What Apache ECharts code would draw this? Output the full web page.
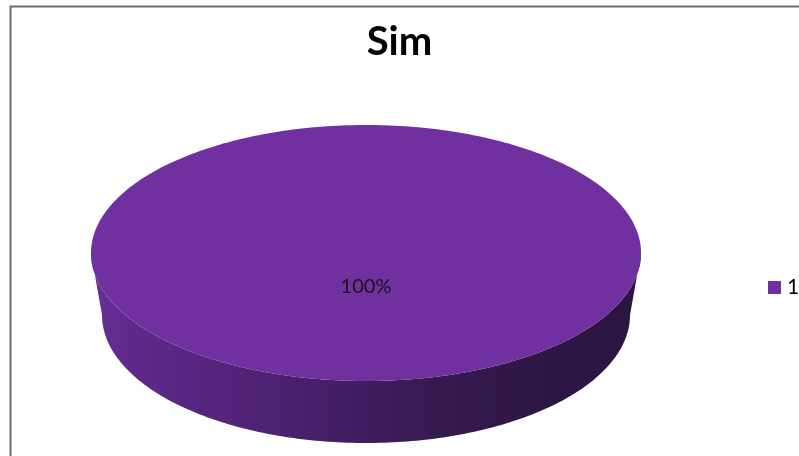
<!DOCTYPE html>
<html>
<head>
<meta charset="utf-8">
<script src="https://cdn.jsdelivr.net/npm/echarts@6/dist/echarts.min.js"></script>
<style>
  html, body { margin: 0; padding: 0; background: #fff; }
  #chart { width: 799px; height: 456px; }
</style>
</head>
<body>
<div id="chart"></div>
<script>
// Chart content
const chartTitle = 'Sim';
const categories = ['1'];
const values = [100];
const sliceColors = ['#7030A0'];

const total = values.reduce((a, b) => a + b, 0);

// Geometry of the tilted (3D-looking) pie
const geo = { cx: 366, cy: 253, rx: 275, ry: 128, depth: 62, baseScale: 0.96 };

function ellipsePoints(cx, cy, rx, ry, a0, a1) {
  const pts = [];
  const steps = Math.max(8, Math.ceil((a1 - a0) / (Math.PI / 180)));
  for (let k = 0; k <= steps; k++) {
    const t = a0 + (a1 - a0) * k / steps;
    pts.push([cx + rx * Math.cos(t), cy + ry * Math.sin(t)]);
  }
  return pts;
}

function makeRenderItem(seriesIndex) {
  return function (params, api) {
    const v = api.value(0);
    let before = 0;
    for (let j = 0; j < seriesIndex; j++) before += values[j];
    const a0 = (before / total) * Math.PI * 2;
    const a1 = ((before + v) / total) * Math.PI * 2;
    const full = (v / total) >= 0.9999;
    const { cx, cy, rx, ry, depth, baseScale } = geo;
    const children = [];

    // front wall: the part of the slice facing the viewer (0..PI, y grows downward)
    const s0 = Math.max(a0, 0), s1 = Math.min(a1, Math.PI);
    if (s1 > s0) {
      const topArc = ellipsePoints(cx, cy, rx, ry, s0, s1);
      const baseArc = ellipsePoints(cx, cy + depth, rx * baseScale, ry, s0, s1).reverse();
      children.push({
        type: 'polygon',
        shape: { points: topArc.concat(baseArc) },
        style: {
          fill: {
            type: 'linear', x: 0, y: 0, x2: 1, y2: 0,
            colorStops: [
              { offset: 0, color: '#6a2e9a' },
              { offset: 0.06, color: '#5f2a8c' },
              { offset: 0.35, color: '#4c2170' },
              { offset: 0.62, color: '#351a50' },
              { offset: 0.85, color: '#2d1643' },
              { offset: 1, color: '#2c1540' }
            ]
          }
        }
      });
    }

    // top face
    let topPts = ellipsePoints(cx, cy, rx, ry, a0, a1);
    if (!full) topPts = [[cx, cy]].concat(topPts);
    children.push({
      type: 'polygon',
      shape: { points: topPts },
      style: { fill: api.visual('color') }
    });

    // percentage label
    const mid = (a0 + a1) / 2;
    const lx = full ? cx : cx + rx * 0.6 * Math.cos(mid);
    const ly = full ? cy + 34 : cy + ry * 0.6 * Math.sin(mid);
    children.push({
      type: 'text',
      style: {
        x: lx, y: ly,
        text: Math.round(v / total * 100) + '%',
        fill: '#161616',
        font: '20px Lato',
        align: 'center',
        verticalAlign: 'middle'
      }
    });

    return { type: 'group', children };
  };
}

const chart = echarts.init(document.getElementById('chart'), null, { renderer: 'canvas' });

chart.setOption({
  backgroundColor: '#ffffff',
  animation: false,
  title: {
    text: chartTitle,
    left: 'center',
    top: 17,
    textStyle: { fontFamily: 'Lato', fontWeight: 'bold', fontSize: 40, color: '#000' }
  },
  legend: {
    orient: 'vertical',
    left: 768,
    top: 277,
    padding: 0,
    icon: 'rect',
    itemWidth: 13,
    itemHeight: 13,
    itemGap: 8,
    textStyle: { fontFamily: 'Lato', fontSize: 21, color: '#000', padding: [0, 0, 0, 1] },
    data: categories
  },
  graphic: [
    {
      type: 'rect',
      shape: { x: 10.5, y: 6.5, width: 900, height: 600 },
      style: { fill: 'transparent', stroke: '#6e6e6e', lineWidth: 2 },
      silent: true
    }
  ],
  series: categories.map((name, i) => ({
    type: 'custom',
    name: name,
    coordinateSystem: 'none',
    itemStyle: { color: sliceColors[i] },
    renderItem: makeRenderItem(i),
    data: [[values[i]]]
  }))
});
</script>
</body>
</html>
